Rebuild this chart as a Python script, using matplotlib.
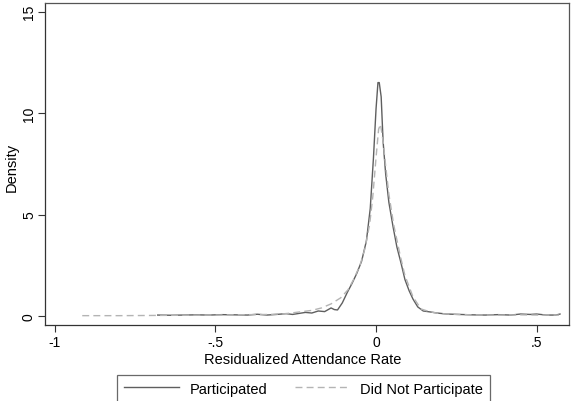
import matplotlib
matplotlib.use("Agg")
import matplotlib.pyplot as plt

plt.rcParams['font.family'] = ['Liberation Sans', 'DejaVu Sans']

# Participated (solid)
part_x = [-0.68, -0.64, -0.60, -0.56, -0.52, -0.48, -0.44, -0.40, -0.37, -0.34,
          -0.31, -0.28, -0.26, -0.24, -0.22, -0.20, -0.18, -0.16, -0.14, -0.13,
          -0.12, -0.105, -0.09, -0.075, -0.06, -0.045, -0.03, -0.018, -0.008, 0.0,
          0.006, 0.010, 0.016, 0.022, 0.030, 0.040, 0.053, 0.065, 0.078, 0.09,
          0.103, 0.115, 0.13, 0.147, 0.17,
          0.19, 0.22, 0.26, 0.30, 0.34, 0.38, 0.42, 0.45, 0.48, 0.50,
          0.53, 0.56, 0.573]
part_y = [0.05, 0.04, 0.05, 0.06, 0.05, 0.07, 0.06, 0.05, 0.09, 0.05,
          0.08, 0.12, 0.08, 0.13, 0.18, 0.15, 0.25, 0.22, 0.40, 0.32,
          0.30, 0.65, 1.15, 1.6, 2.1, 2.7, 3.7, 5.3, 7.8, 10.2,
          11.5, 11.5, 10.8, 8.6, 7.0, 5.6, 4.4, 3.4, 2.6, 1.8,
          1.25, 0.84, 0.45, 0.25, 0.2,
          0.15, 0.1, 0.08, 0.06, 0.05, 0.07, 0.05, 0.1, 0.08, 0.1,
          0.05, 0.05, 0.1]

# Did Not Participate (dashed)
nonpart_x = [-0.915, -0.80, -0.70, -0.60, -0.50, -0.40, -0.33, -0.28, -0.24, -0.20,
             -0.17, -0.14, -0.11, -0.087, -0.07, -0.05, -0.035, -0.02, -0.01, 0.0,
             0.008, 0.014, 0.022, 0.03, 0.04, 0.055, 0.075, 0.09, 0.115, 0.14, 0.17, 0.20,
             0.25, 0.30, 0.35, 0.40, 0.45, 0.50, 0.57]
nonpart_y = [0.02, 0.02, 0.03, 0.04, 0.05, 0.07, 0.08, 0.12, 0.2, 0.28,
             0.4, 0.6, 0.9, 1.3, 1.8, 2.5, 3.3, 4.5, 5.9, 7.8,
             9.2, 9.45, 8.6, 7.4, 6.0, 4.5, 3.0, 2.0, 0.95, 0.35, 0.2, 0.12,
             0.08, 0.06, 0.05, 0.05, 0.06, 0.05, 0.05]

x_ticks = [-1, -0.5, 0, 0.5]
x_ticklabels = ['-1', '-.5', '0', '.5']
y_ticks = [0, 5, 10, 15]
y_ticklabels = ['0', '5', '10', '15']

fig = plt.figure(figsize=(5.71, 4.02), dpi=100)
ax = fig.add_axes([45/571, 1-326/402, (569-45)/571, (326-4)/402])

ax.plot(part_x, part_y, color='#5f5f5f', lw=1.0, label='Participated')
ax.plot(nonpart_x, nonpart_y, color='#b4b4b4', lw=1.0, ls=(0, (5, 3)), label='Did Not Participate')

ax.set_xlim(-1.031, 0.601)
ax.set_ylim(-0.44, 15.42)
ax.set_xticks(x_ticks)
ax.set_xticklabels(x_ticklabels)
ax.set_yticks(y_ticks)
ax.set_yticklabels(y_ticklabels, rotation=90, va='center')
ax.tick_params(direction='out', length=5, width=0.8, color='#333333', labelsize=10)
ax.tick_params(axis='y', pad=1.5)
ax.tick_params(axis='x', pad=2.5)
for s in ax.spines.values():
    s.set_color('#555555')
    s.set_linewidth(0.9)
ax.spines['left'].set_color('#333333')
ax.spines['bottom'].set_color('#333333')

ax.set_xlabel('Residualized Attendance Rate', fontsize=10.5)
ax.set_ylabel('Density', fontsize=10.5)
ax.xaxis.set_label_coords((303 - 45) / 524, (326 - 360) / 322)
ax.yaxis.set_label_coords((12 - 45) / 524, (326 - 167) / 322)
ax.xaxis.label.set_va('center')
ax.yaxis.label.set_va('center')

leg = fig.legend(loc='upper center', bbox_to_anchor=(303.5/571, 1-376/402), ncol=2,
                 frameon=True, fancybox=False, edgecolor='#444444', fontsize=10.5,
                 handlelength=3.8, columnspacing=1.9, handletextpad=0.7,
                 borderpad=0.45, borderaxespad=0)
leg.get_frame().set_linewidth(0.9)

fig.savefig('out.png', dpi=100)
